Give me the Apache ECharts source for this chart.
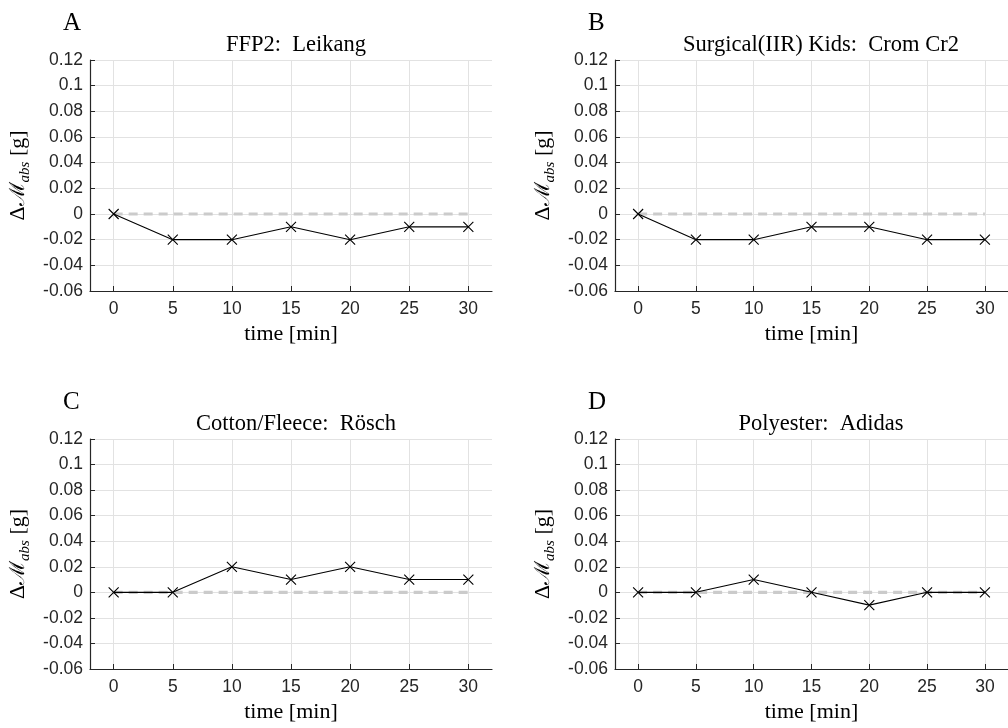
<!DOCTYPE html>
<html>
<head>
<meta charset="utf-8">
<script src="https://cdn.jsdelivr.net/npm/echarts@6/dist/echarts.min.js"></script>
<style>
html,body{margin:0;padding:0;background:#fff;}
#chart{width:1008px;height:728px;}
</style>
</head>
<body>
<div id="chart"></div>
<script>
// ---- data ----
const times = [0, 5, 10, 15, 20, 25, 30];
const xTicks = [0, 5, 10, 15, 20, 25, 30];
const panelLetters = ['A', 'B', 'C', 'D'];
const panelTitles = ['FFP2:  Leikang', 'Surgical(IIR) Kids:  Crom Cr2', 'Cotton/Fleece:  Rösch', 'Polyester:  Adidas'];
const valuesA = [0, -0.02, -0.02, -0.01, -0.02, -0.01, -0.01];
const valuesB = [0, -0.02, -0.02, -0.01, -0.01, -0.02, -0.02];
const valuesC = [0, 0, 0.02, 0.01, 0.02, 0.01, 0.01];
const valuesD = [0, 0, 0.01, 0, -0.01, 0, 0];
const zeroLine = [0, 0];
const zeroLineX = [0, 30];
const yMin = -0.06, yMax = 0.12, yStep = 0.02;
const xMin = -2, xMax = 32;

const panelValues = [valuesA, valuesB, valuesC, valuesD];

// ---- layout ----
const grids = [
  {left: 90, top: 60, width: 402, height: 231},
  {left: 615, top: 60, width: 402, height: 231},
  {left: 90, top: 439, width: 402, height: 230},
  {left: 615, top: 439, width: 402, height: 230}
];
const serif = 'Liberation Serif';
const sans = 'Liberation Sans';
const axisColor = '#262626';
const gridColor = '#e2e2e2';

const option = {
  animation: false,
  backgroundColor: '#fff',
  title: [],
  grid: grids.map(g => Object.assign({containLabel: false}, g)),
  xAxis: [],
  yAxis: [],
  series: []
};

grids.forEach((g, i) => {
  option.title.push({
    text: panelLetters[i],
    left: g.left - 32,
    top: g.top - 54,
    textStyle: {fontFamily: serif, fontSize: 25, fontWeight: 'normal', color: '#000'}
  });
  option.title.push({
    text: panelTitles[i],
    left: g.left + g.width / 2,
    textAlign: 'center',
    top: g.top - 31,
    textStyle: {fontFamily: serif, fontSize: 22.5, fontWeight: 'normal', color: '#000'}
  });
  option.xAxis.push({
    type: 'value',
    gridIndex: i,
    min: xMin,
    max: xMax,
    name: 'time [min]',
    nameLocation: 'middle',
    nameGap: 32,
    nameTextStyle: {fontFamily: serif, fontSize: 22, color: '#000'},
    axisLine: {show: true, onZero: false, lineStyle: {color: axisColor, width: 1.2}},
    axisTick: {show: true, inside: true, length: 5, customValues: xTicks, lineStyle: {color: axisColor}},
    axisLabel: {customValues: xTicks, margin: 9, fontFamily: sans, fontSize: 17.5, color: axisColor},
    splitLine: {show: true, lineStyle: {color: gridColor, width: 1}}
  });
  option.yAxis.push({
    type: 'value',
    gridIndex: i,
    min: yMin,
    max: yMax,
    interval: yStep,
    name: '{d|Δ}{m|ℳ}{s|abs}{g| [g]}',
    nameLocation: 'middle',
    nameRotate: 90,
    nameGap: 57,
    nameTextStyle: {
      color: '#000',
      rich: {
        d: {fontFamily: serif, fontSize: 22, lineHeight: 27, verticalAlign: 'bottom', color: '#000', padding: [0, 0, 4, 0]},
        m: {fontFamily: 'DejaVu Serif', fontSize: 21, lineHeight: 27, verticalAlign: 'bottom', color: '#000', padding: [0, 0, 4, 0]},
        s: {fontFamily: serif, fontStyle: 'italic', fontSize: 15, lineHeight: 15, verticalAlign: 'bottom', color: '#000'},
        g: {fontFamily: serif, fontSize: 22, lineHeight: 27, verticalAlign: 'bottom', color: '#000', padding: [0, 0, 4, 0]}
      }
    },
    axisLine: {show: true, onZero: false, lineStyle: {color: axisColor, width: 1.2}},
    axisTick: {show: true, inside: true, length: 5, lineStyle: {color: axisColor}},
    axisLabel: {
      margin: 7, fontFamily: sans, fontSize: 17.5, color: axisColor,
      formatter: v => String(Math.round(v * 100) / 100)
    },
    splitLine: {show: true, lineStyle: {color: gridColor, width: 1}}
  });
  option.series.push({
    type: 'line',
    xAxisIndex: i, yAxisIndex: i,
    data: zeroLineX.map((x, k) => [x, zeroLine[k]]),
    symbol: 'none',
    lineStyle: {color: '#cbcbcb', width: 3.2, type: [9, 6]},
    z: 2, silent: true
  });
  option.series.push({
    type: 'line',
    xAxisIndex: i, yAxisIndex: i,
    data: times.map((t, k) => [t, panelValues[i][k]]),
    symbol: 'path://M0,0L10,10M10,0L0,10',
    symbolSize: 10,
    itemStyle: {color: 'none', borderColor: '#000', borderWidth: 1.1},
    lineStyle: {color: '#000', width: 1.1},
    z: 3
  });
});

const chart = echarts.init(document.getElementById('chart'), null, {renderer: 'canvas'});
chart.setOption(option);
</script>
</body>
</html>
